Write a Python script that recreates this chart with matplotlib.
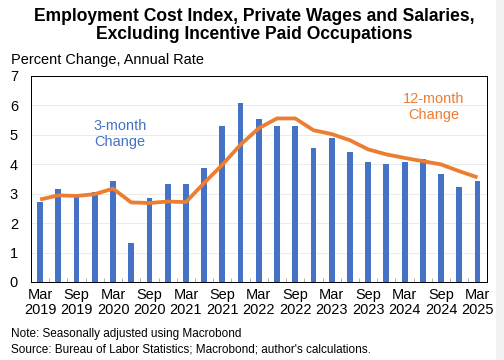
import numpy as np
import matplotlib.pyplot as plt

plt.rcParams['font.family'] = ['Liberation Sans', 'DejaVu Sans']

# quarterly observations, Mar 2019 .. Mar 2025
quarters = ['Mar\n2019', 'Jun\n2019', 'Sep\n2019', 'Dec\n2019',
            'Mar\n2020', 'Jun\n2020', 'Sep\n2020', 'Dec\n2020',
            'Mar\n2021', 'Jun\n2021', 'Sep\n2021', 'Dec\n2021',
            'Mar\n2022', 'Jun\n2022', 'Sep\n2022', 'Dec\n2022',
            'Mar\n2023', 'Jun\n2023', 'Sep\n2023', 'Dec\n2023',
            'Mar\n2024', 'Jun\n2024', 'Sep\n2024', 'Dec\n2024',
            'Mar\n2025']
three_month = [2.70, 3.15, 2.93, 3.06, 3.43, 1.33, 2.86, 3.31, 3.31, 3.88,
               5.29, 6.08, 5.54, 5.28, 5.29, 4.56, 4.88, 4.41, 4.06, 4.00,
               4.08, 4.17, 3.66, 3.22, 3.42]
twelve_month = [2.80, 2.94, 2.92, 2.98, 3.17, 2.70, 2.68, 2.73, 2.71, 3.36,
                3.98, 4.66, 5.22, 5.55, 5.55, 5.15, 5.02, 4.81, 4.50, 4.33,
                4.21, 4.10, 3.99, 3.76, 3.55]

blue = '#4472C4'
orange = '#ED7D31'

fig = plt.figure(figsize=(7, 5), dpi=72)
ax = fig.add_axes([0.0615, 0.2167, 0.904, 0.573])

x = np.arange(len(quarters))
ax.bar(x, three_month, width=0.32, color=blue, zorder=2)
ax.plot(x, twelve_month, color=orange, lw=3.8, solid_capstyle='butt', zorder=3)

ax.set_xlim(-0.5, len(quarters) - 0.5)
ax.set_ylim(0, 7)
ax.set_yticks(range(8))
ax.yaxis.grid(True, color='#e6e6e6', lw=0.8, zorder=0)
ax.set_axisbelow(True)

ax.set_xticks(x[::2])
ax.set_xticklabels(quarters[::2], linespacing=1.1)
ax.set_xticks(np.arange(len(quarters) - 1) + 0.5, minor=True)
ax.tick_params(axis='x', which='major', length=0, labelsize=14.5, pad=6)
ax.tick_params(axis='x', which='minor', direction='in', length=4, color='#808080')
ax.tick_params(axis='y', length=0, labelsize=14.5, pad=13)

for s in ax.spines.values():
    s.set_color('black')
    s.set_linewidth(1)

ax.text(4.4, 5.02, '3-month\nChange', color=blue, fontsize=14.5,
        ha='center', va='center', linespacing=1.2)
ax.text(21.6, 5.95, '12-month\nChange', color=orange, fontsize=14.5,
        ha='center', va='center', linespacing=1.2)

fig.text(0.504, 0.929, 'Employment Cost Index, Private Wages and Salaries,\n'
         'Excluding Incentive Paid Occupations', ha='center', va='center',
         fontsize=17.5, fontweight='bold', linespacing=1.05)
fig.text(0.022, 0.833, 'Percent Change, Annual Rate', fontsize=14.5, va='center')
fig.text(0.022, 0.073, 'Note: Seasonally adjusted using Macrobond', fontsize=11.8, va='center')
fig.text(0.022, 0.030, "Source: Bureau of Labor Statistics; Macrobond; author's calculations.",
         fontsize=11.8, va='center')

fig.patches.append(plt.Rectangle((0.985, 0), 0.015, 1, transform=fig.transFigure,
                                 color='#f2f2f2', zorder=-1))

fig.savefig('out.png', dpi=72)
